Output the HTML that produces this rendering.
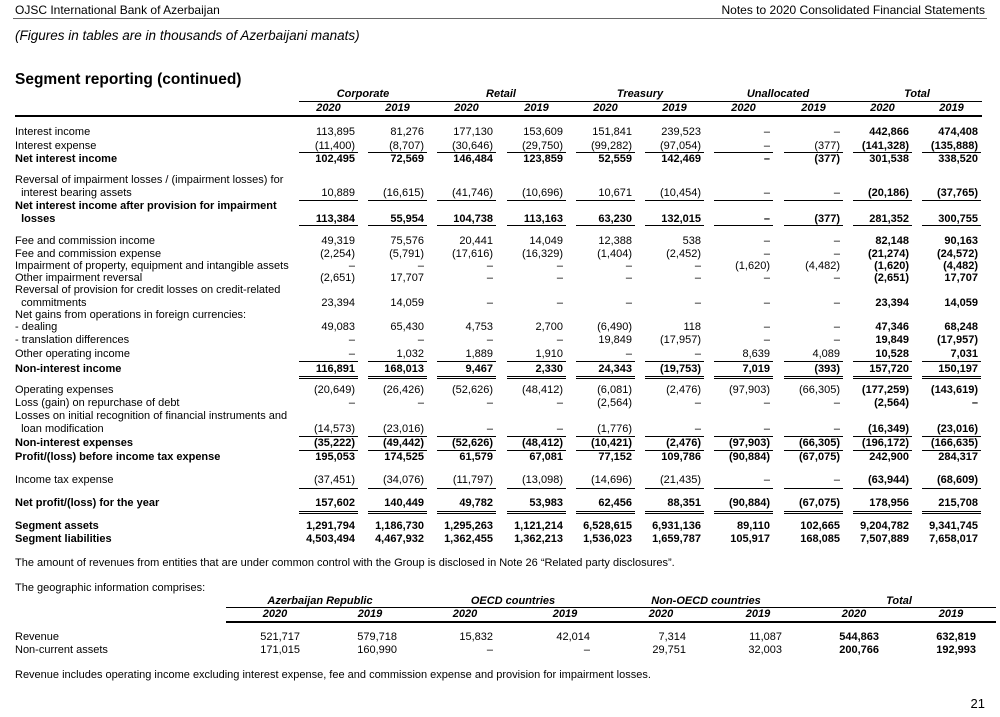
<!DOCTYPE html>
<html><head><meta charset="utf-8"><style>
body{margin:0;background:#fff;}
#p{position:relative;width:1000px;height:717px;overflow:hidden;font-family:"Liberation Sans",Arial,sans-serif;font-size:11px;color:#000;}
.r{position:absolute;left:0;width:1000px;height:14px;line-height:14px;}
.l{position:absolute;left:15px;white-space:nowrap;}
.r i{position:absolute;font-style:normal;white-space:nowrap;text-align:right;}
.c0{right:645px}.c1{right:576px}.c2{right:507px}.c3{right:437px}.c4{right:368px}.c5{right:299px}.c6{right:230px}.c7{right:160px}.c8{right:91px}.c9{right:22px}
.c8,.c9{font-weight:bold}
.b{font-weight:bold}
.ln{position:absolute;left:0;width:1000px;height:0;}
.ln s{position:absolute;width:59px;border-top:1px solid #000;}
.ln.d s{border-top:3px double #000;}
.x0{left:299px}.x1{left:368px}.x2{left:437px}.x3{left:507px}.x4{left:576px}.x5{left:645px}.x6{left:714px}.x7{left:784px}.x8{left:853px}.x9{left:922px}
.hd{position:absolute;font-style:italic;font-weight:bold;text-align:center;line-height:14px;}
.g{position:absolute;left:0;width:1000px;height:14px;line-height:14px;}
.g i{position:absolute;font-style:normal;text-align:right;}
.g0{right:700px}.g1{right:603px}.g2{right:507px}.g3{right:410px}.g4{right:314px}.g5{right:218px}.g6{right:121px}.g7{right:24px}
.g6,.g7{font-weight:bold}
</style></head><body><div id="p">
<div class="r" style="top:3px;font-size:12px"><span class="l">OJSC International Bank of Azerbaijan</span><span style="position:absolute;right:15px">Notes to 2020 Consolidated Financial Statements</span></div>
<div style="position:absolute;left:13px;top:18px;width:974px;border-top:1px solid #666"></div>
<div class="r" style="top:29px;font-size:13.5px;font-style:italic"><span class="l">(Figures in tables are in thousands of Azerbaijani manats)</span></div>
<div class="r" style="top:71px;font-size:15.5px;font-weight:bold;height:18px;line-height:18px"><span class="l">Segment reporting (continued)</span></div>

<div class="hd" style="top:87px;left:299px;width:128px">Corporate</div>
<div class="hd" style="top:87px;left:437px;width:128px">Retail</div>
<div class="hd" style="top:87px;left:576px;width:128px">Treasury</div>
<div class="hd" style="top:87px;left:714px;width:128px">Unallocated</div>
<div class="hd" style="top:87px;left:853px;width:128px">Total</div>
<div style="position:absolute;left:299px;top:101px;width:683px;border-top:1px solid #000"></div>
<div class="hd" style="top:101px;left:299px;width:59px">2020</div>
<div class="hd" style="top:101px;left:368px;width:59px">2019</div>
<div class="hd" style="top:101px;left:437px;width:59px">2020</div>
<div class="hd" style="top:101px;left:507px;width:59px">2019</div>
<div class="hd" style="top:101px;left:576px;width:59px">2020</div>
<div class="hd" style="top:101px;left:645px;width:59px">2019</div>
<div class="hd" style="top:101px;left:714px;width:59px">2020</div>
<div class="hd" style="top:101px;left:784px;width:59px">2019</div>
<div class="hd" style="top:101px;left:853px;width:59px">2020</div>
<div class="hd" style="top:101px;left:922px;width:59px">2019</div>
<div style="position:absolute;left:15px;top:115px;width:967px;border-top:2px solid #000"></div>

<div class="r" style="top:125px"><span class="l">Interest income</span><i class="c0">113,895</i><i class="c1">81,276</i><i class="c2">177,130</i><i class="c3">153,609</i><i class="c4">151,841</i><i class="c5">239,523</i><i class="c6">–</i><i class="c7">–</i><i class="c8">442,866</i><i class="c9">474,408</i></div>
<div class="r" style="top:139px"><span class="l">Interest expense</span><i class="c0">(11,400)</i><i class="c1">(8,707)</i><i class="c2">(30,646)</i><i class="c3">(29,750)</i><i class="c4">(99,282)</i><i class="c5">(97,054)</i><i class="c6">–</i><i class="c7">(377)</i><i class="c8">(141,328)</i><i class="c9">(135,888)</i></div>
<div class="ln" style="top:152px"><s class="x0"></s><s class="x1"></s><s class="x2"></s><s class="x3"></s><s class="x4"></s><s class="x5"></s><s class="x6"></s><s class="x7"></s><s class="x8"></s><s class="x9"></s></div>
<div class="r b" style="top:152px"><span class="l">Net interest income</span><i class="c0">102,495</i><i class="c1">72,569</i><i class="c2">146,484</i><i class="c3">123,859</i><i class="c4">52,559</i><i class="c5">142,469</i><i class="c6">–</i><i class="c7">(377)</i><i class="c8">301,538</i><i class="c9">338,520</i></div>

<div class="r" style="top:173px"><span class="l">Reversal of impairment losses / (impairment losses) for</span></div>
<div class="r" style="top:186px"><span class="l">&nbsp; interest bearing assets</span><i class="c0">10,889</i><i class="c1">(16,615)</i><i class="c2">(41,746)</i><i class="c3">(10,696)</i><i class="c4">10,671</i><i class="c5">(10,454)</i><i class="c6">–</i><i class="c7">–</i><i class="c8">(20,186)</i><i class="c9">(37,765)</i></div>
<div class="ln" style="top:200px"><s class="x0"></s><s class="x1"></s><s class="x2"></s><s class="x3"></s><s class="x4"></s><s class="x5"></s><s class="x6"></s><s class="x7"></s><s class="x8"></s><s class="x9"></s></div>
<div class="r b" style="top:199px"><span class="l">Net interest income after provision for impairment</span></div>
<div class="r b" style="top:212px"><span class="l">&nbsp; losses</span><i class="c0">113,384</i><i class="c1">55,954</i><i class="c2">104,738</i><i class="c3">113,163</i><i class="c4">63,230</i><i class="c5">132,015</i><i class="c6">–</i><i class="c7">(377)</i><i class="c8">281,352</i><i class="c9">300,755</i></div>
<div class="ln" style="top:225px"><s class="x0"></s><s class="x1"></s><s class="x2"></s><s class="x3"></s><s class="x4"></s><s class="x5"></s><s class="x6"></s><s class="x7"></s><s class="x8"></s><s class="x9"></s></div>

<div class="r" style="top:234px"><span class="l">Fee and commission income</span><i class="c0">49,319</i><i class="c1">75,576</i><i class="c2">20,441</i><i class="c3">14,049</i><i class="c4">12,388</i><i class="c5">538</i><i class="c6">–</i><i class="c7">–</i><i class="c8">82,148</i><i class="c9">90,163</i></div>
<div class="r" style="top:247px"><span class="l">Fee and commission expense</span><i class="c0">(2,254)</i><i class="c1">(5,791)</i><i class="c2">(17,616)</i><i class="c3">(16,329)</i><i class="c4">(1,404)</i><i class="c5">(2,452)</i><i class="c6">–</i><i class="c7">–</i><i class="c8">(21,274)</i><i class="c9">(24,572)</i></div>
<div class="r" style="top:259px"><span class="l">Impairment of property, equipment and intangible assets</span><i class="c0">–</i><i class="c1">–</i><i class="c2">–</i><i class="c3">–</i><i class="c4">–</i><i class="c5">–</i><i class="c6">(1,620)</i><i class="c7">(4,482)</i><i class="c8">(1,620)</i><i class="c9">(4,482)</i></div>
<div class="r" style="top:271px"><span class="l">Other impairment reversal</span><i class="c0">(2,651)</i><i class="c1">17,707</i><i class="c2">–</i><i class="c3">–</i><i class="c4">–</i><i class="c5">–</i><i class="c6">–</i><i class="c7">–</i><i class="c8">(2,651)</i><i class="c9">17,707</i></div>
<div class="r" style="top:283px"><span class="l">Reversal of provision for credit losses on credit-related</span></div>
<div class="r" style="top:296px"><span class="l">&nbsp; commitments</span><i class="c0">23,394</i><i class="c1">14,059</i><i class="c2">–</i><i class="c3">–</i><i class="c4">–</i><i class="c5">–</i><i class="c6">–</i><i class="c7">–</i><i class="c8">23,394</i><i class="c9">14,059</i></div>
<div class="r" style="top:308px"><span class="l">Net gains from operations in foreign currencies:</span></div>
<div class="r" style="top:320px"><span class="l">- dealing</span><i class="c0">49,083</i><i class="c1">65,430</i><i class="c2">4,753</i><i class="c3">2,700</i><i class="c4">(6,490)</i><i class="c5">118</i><i class="c6">–</i><i class="c7">–</i><i class="c8">47,346</i><i class="c9">68,248</i></div>
<div class="r" style="top:333px"><span class="l">- translation differences</span><i class="c0">–</i><i class="c1">–</i><i class="c2">–</i><i class="c3">–</i><i class="c4">19,849</i><i class="c5">(17,957)</i><i class="c6">–</i><i class="c7">–</i><i class="c8">19,849</i><i class="c9">(17,957)</i></div>
<div class="r" style="top:347px"><span class="l">Other operating income</span><i class="c0">–</i><i class="c1">1,032</i><i class="c2">1,889</i><i class="c3">1,910</i><i class="c4">–</i><i class="c5">–</i><i class="c6">8,639</i><i class="c7">4,089</i><i class="c8">10,528</i><i class="c9">7,031</i></div>
<div class="ln" style="top:361px"><s class="x0"></s><s class="x1"></s><s class="x2"></s><s class="x3"></s><s class="x4"></s><s class="x5"></s><s class="x6"></s><s class="x7"></s><s class="x8"></s><s class="x9"></s></div>
<div class="r b" style="top:362px"><span class="l">Non-interest income</span><i class="c0">116,891</i><i class="c1">168,013</i><i class="c2">9,467</i><i class="c3">2,330</i><i class="c4">24,343</i><i class="c5">(19,753)</i><i class="c6">7,019</i><i class="c7">(393)</i><i class="c8">157,720</i><i class="c9">150,197</i></div>
<div class="ln d" style="top:376px"><s class="x0"></s><s class="x1"></s><s class="x2"></s><s class="x3"></s><s class="x4"></s><s class="x5"></s><s class="x6"></s><s class="x7"></s><s class="x8"></s><s class="x9"></s></div>

<div class="r" style="top:383px"><span class="l">Operating expenses</span><i class="c0">(20,649)</i><i class="c1">(26,426)</i><i class="c2">(52,626)</i><i class="c3">(48,412)</i><i class="c4">(6,081)</i><i class="c5">(2,476)</i><i class="c6">(97,903)</i><i class="c7">(66,305)</i><i class="c8">(177,259)</i><i class="c9">(143,619)</i></div>
<div class="r" style="top:396px"><span class="l">Loss (gain) on repurchase of debt</span><i class="c0">–</i><i class="c1">–</i><i class="c2">–</i><i class="c3">–</i><i class="c4">(2,564)</i><i class="c5">–</i><i class="c6">–</i><i class="c7">–</i><i class="c8">(2,564)</i><i class="c9">–</i></div>
<div class="r" style="top:409px"><span class="l">Losses on initial recognition of financial instruments and</span></div>
<div class="r" style="top:422px"><span class="l">&nbsp; loan modification</span><i class="c0">(14,573)</i><i class="c1">(23,016)</i><i class="c2">–</i><i class="c3">–</i><i class="c4">(1,776)</i><i class="c5">–</i><i class="c6">–</i><i class="c7">–</i><i class="c8">(16,349)</i><i class="c9">(23,016)</i></div>
<div class="ln" style="top:436px"><s class="x0"></s><s class="x1"></s><s class="x2"></s><s class="x3"></s><s class="x4"></s><s class="x5"></s><s class="x6"></s><s class="x7"></s><s class="x8"></s><s class="x9"></s></div>
<div class="r b" style="top:436px"><span class="l">Non-interest expenses</span><i class="c0">(35,222)</i><i class="c1">(49,442)</i><i class="c2">(52,626)</i><i class="c3">(48,412)</i><i class="c4">(10,421)</i><i class="c5">(2,476)</i><i class="c6">(97,903)</i><i class="c7">(66,305)</i><i class="c8">(196,172)</i><i class="c9">(166,635)</i></div>
<div class="ln" style="top:450px"><s class="x0"></s><s class="x1"></s><s class="x2"></s><s class="x3"></s><s class="x4"></s><s class="x5"></s><s class="x6"></s><s class="x7"></s><s class="x8"></s><s class="x9"></s></div>
<div class="r b" style="top:450px"><span class="l">Profit/(loss) before income tax expense</span><i class="c0">195,053</i><i class="c1">174,525</i><i class="c2">61,579</i><i class="c3">67,081</i><i class="c4">77,152</i><i class="c5">109,786</i><i class="c6">(90,884)</i><i class="c7">(67,075)</i><i class="c8">242,900</i><i class="c9">284,317</i></div>

<div class="r" style="top:473px"><span class="l">Income tax expense</span><i class="c0">(37,451)</i><i class="c1">(34,076)</i><i class="c2">(11,797)</i><i class="c3">(13,098)</i><i class="c4">(14,696)</i><i class="c5">(21,435)</i><i class="c6">–</i><i class="c7">–</i><i class="c8">(63,944)</i><i class="c9">(68,609)</i></div>
<div class="ln" style="top:488px"><s class="x0"></s><s class="x1"></s><s class="x2"></s><s class="x3"></s><s class="x4"></s><s class="x5"></s><s class="x6"></s><s class="x7"></s><s class="x8"></s><s class="x9"></s></div>
<div class="r b" style="top:496px"><span class="l">Net profit/(loss) for the year</span><i class="c0">157,602</i><i class="c1">140,449</i><i class="c2">49,782</i><i class="c3">53,983</i><i class="c4">62,456</i><i class="c5">88,351</i><i class="c6">(90,884)</i><i class="c7">(67,075)</i><i class="c8">178,956</i><i class="c9">215,708</i></div>
<div class="ln d" style="top:511px"><s class="x0"></s><s class="x1"></s><s class="x2"></s><s class="x3"></s><s class="x4"></s><s class="x5"></s><s class="x6"></s><s class="x7"></s><s class="x8"></s><s class="x9"></s></div>

<div class="r b" style="top:519px"><span class="l">Segment assets</span><i class="c0">1,291,794</i><i class="c1">1,186,730</i><i class="c2">1,295,263</i><i class="c3">1,121,214</i><i class="c4">6,528,615</i><i class="c5">6,931,136</i><i class="c6">89,110</i><i class="c7">102,665</i><i class="c8">9,204,782</i><i class="c9">9,341,745</i></div>
<div class="r b" style="top:532px"><span class="l">Segment liabilities</span><i class="c0">4,503,494</i><i class="c1">4,467,932</i><i class="c2">1,362,455</i><i class="c3">1,362,213</i><i class="c4">1,536,023</i><i class="c5">1,659,787</i><i class="c6">105,917</i><i class="c7">168,085</i><i class="c8">7,507,889</i><i class="c9">7,658,017</i></div>

<div class="r" style="top:556px"><span class="l">The amount of revenues from entities that are under common control with the Group is disclosed in Note 26 “Related party disclosures”.</span></div>
<div class="r" style="top:581px"><span class="l">The geographic information comprises:</span></div>

<div class="hd" style="top:594px;left:240px;width:160px">Azerbaijan Republic</div>
<div class="hd" style="top:594px;left:433px;width:160px">OECD countries</div>
<div class="hd" style="top:594px;left:626px;width:160px">Non-OECD countries</div>
<div class="hd" style="top:594px;left:819px;width:160px">Total</div>
<div style="position:absolute;left:226px;top:607px;width:770px;border-top:1px solid #000"></div>
<div class="hd" style="top:607px;left:250px;width:50px">2020</div>
<div class="hd" style="top:607px;left:345px;width:50px">2019</div>
<div class="hd" style="top:607px;left:440px;width:50px">2020</div>
<div class="hd" style="top:607px;left:540px;width:50px">2019</div>
<div class="hd" style="top:607px;left:636px;width:50px">2020</div>
<div class="hd" style="top:607px;left:733px;width:50px">2019</div>
<div class="hd" style="top:607px;left:829px;width:50px">2020</div>
<div class="hd" style="top:607px;left:926px;width:50px">2019</div>
<div style="position:absolute;left:226px;top:621px;width:770px;border-top:2px solid #000"></div>
<div class="g" style="top:630px"><span class="l">Revenue</span><i class="g0">521,717</i><i class="g1">579,718</i><i class="g2">15,832</i><i class="g3">42,014</i><i class="g4">7,314</i><i class="g5">11,087</i><i class="g6">544,863</i><i class="g7">632,819</i></div>
<div class="g" style="top:643px"><span class="l">Non-current assets</span><i class="g0">171,015</i><i class="g1">160,990</i><i class="g2">–</i><i class="g3">–</i><i class="g4">29,751</i><i class="g5">32,003</i><i class="g6">200,766</i><i class="g7">192,993</i></div>
<div class="r" style="top:668px"><span class="l">Revenue includes operating income excluding interest expense, fee and commission expense and provision for impairment losses.</span></div>
<div class="r" style="top:697px;font-size:13px"><span style="position:absolute;right:15px">21</span></div>
</div></body></html>
